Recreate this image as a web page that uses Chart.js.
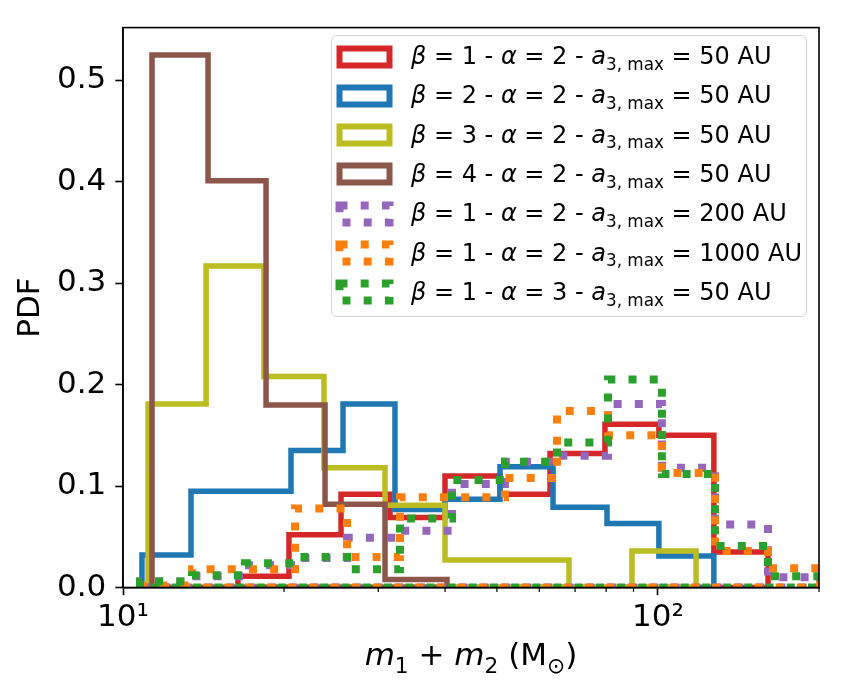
<!DOCTYPE html>
<html>
<head>
<meta charset="utf-8">
<script src="https://cdn.jsdelivr.net/npm/chart.js@4.4.0/dist/chart.umd.min.js"></script>
<style>
  body { margin: 0; background: #fff; }
  #wrap { position: relative; width: 844px; height: 694px; font-family: 'DejaVu Sans', sans-serif; color: #000; }
  #xtitle { position: absolute; left: 123px; width: 696px; top: 636px; text-align: center; font-size: 31px; white-space: nowrap; }
  #legend { position: absolute; left: 331px; top: 35px; width: 474px; height: 280px; border: 1.5px solid #d3d3d3; border-radius: 6px; background: rgba(255,255,255,0.8); }
  .row { position: absolute; left: 0; height: 39px; width: 470px; font-size: 24px; white-space: nowrap; }
  .row canvas { position: absolute; left: 2px; top: 3.5px; }
  .row span.txt { position: absolute; left: 79px; top: 0; line-height: 39px; }
  .sub { font-size: 70%; position: relative; top: 0.35em; }
</style>
</head>
<body>
<div id="wrap">
  <canvas id="grafico" width="844" height="694"></canvas>
  <div id="xtitle"><i>m</i><span class="sub">1</span> + <i>m</i><span class="sub">2</span> (M<span class="sub">⊙</span>)</div>
  <div id="legend"></div>
</div>
<script>
// --- parâmetros de cada simulação (ordem da legenda) ---
const betas = [1, 2, 3, 4, 1, 1, 1];
const alphas = [2, 2, 2, 2, 2, 2, 3];
const aMax = [50, 50, 50, 50, 200, 1000, 50];

// --- bordas dos bins (M_sun) e PDF ---
const redEdges = [16.40, 20.43, 25.56, 31.56, 39.99, 50.67, 62.84, 79.60, 100.4, 127.2, 160.6];
const redPdf = [0.011, 0.052, 0.092, 0.069, 0.110, 0.092, 0.132, 0.161, 0.150, 0.035];

const blueEdges = [10.85, 13.40, 16.62, 20.61, 25.78, 32.24, 39.99, 50.67, 63.66, 80.30, 100.4, 127.2];
const bluePdf = [0.032, 0.095, 0.095, 0.135, 0.181, 0.077, 0.087, 0.119, 0.079, 0.063, 0.031];

const oliveEdges = [11.14, 14.30, 18.34, 23.75, 30.89, 39.99, 52.21, 68.19, 89.42, 117.8];
const olivePdf = [0.181, 0.317, 0.208, 0.118, 0.081, 0.027, 0.027, 0.0, 0.036];

const brownEdges = [11.33, 14.42, 18.51, 23.86, 30.89, 40.33];
const brownPdf = [0.525, 0.401, 0.180, 0.082, 0.008];

const dotEdges = [10.76, 13.46, 16.90, 20.97, 26.23, 32.94, 41.21, 51.76, 64.76, 80.64, 101.7, 127.8, 160.6, 200.8, 252.0];
const purplePdf = [0.006, 0.011, 0.022, 0.029, 0.049, 0.056, 0.102, 0.124, 0.130, 0.181, 0.118, 0.062, 0.010, 0.004];
const orangePdf = [0.002, 0.018, 0.018, 0.078, 0.030, 0.089, 0.089, 0.108, 0.174, 0.150, 0.113, 0.036, 0.019, 0.004];
const greenPdf = [0.006, 0.012, 0.024, 0.030, 0.018, 0.068, 0.106, 0.124, 0.143, 0.205, 0.112, 0.041, 0.011, 0.004];

// --- eixos ---
const xMajorTicks = [10, 100];
const xMinorTicks = [20, 30, 40, 50, 60, 70, 80, 90, 200];
const yTicks = [0.0, 0.1, 0.2, 0.3, 0.4, 0.5];

const SOLID = 5.5;
const DOT = 8;
const DOT_DASH = [8, 13.2];

const series = [
    { edges: redEdges, pdf: redPdf, color: '#d62728', dotted: false },
    { edges: blueEdges, pdf: bluePdf, color: '#1f77b4', dotted: false },
    { edges: oliveEdges, pdf: olivePdf, color: '#bcbd22', dotted: false },
    { edges: brownEdges, pdf: brownPdf, color: '#8c564b', dotted: false },
    { edges: dotEdges, pdf: purplePdf, color: '#9467bd', dotted: true },
    { edges: dotEdges, pdf: orangePdf, color: '#ff7f0e', dotted: true },
    { edges: dotEdges, pdf: greenPdf, color: '#2ca02c', dotted: true }
];

// contorno fechado do histograma (step)
function histPoints(edges, pdf) {
    const pts = [{ x: edges[0], y: 0 }];
    pdf.forEach((v, i) => pts.push({ x: edges[i], y: v }));
    pts.push({ x: edges[edges.length - 1], y: 0 });
    pts.push({ x: edges[0], y: 0 });
    return pts;
}

const sup = { '1': '¹', '2': '²', '3': '³' };

// moldura + ticks menores
const frame = {
    id: 'frame',
    afterDatasetsDraw(chart) {
        const { ctx, chartArea: a } = chart;
        const x = chart.scales.x;
        ctx.save();
        ctx.strokeStyle = '#000';
        ctx.lineWidth = 1.6;
        ctx.strokeRect(a.left, a.top, a.right - a.left, a.bottom - a.top);
        ctx.lineWidth = 1.2;
        xMinorTicks.forEach(v => {
            const px = x.getPixelForValue(v);
            ctx.beginPath();
            ctx.moveTo(px, a.bottom);
            ctx.lineTo(px, a.bottom + 4.4);
            ctx.stroke();
        });
        ctx.restore();
    }
};

Chart.defaults.font.family = "'DejaVu Sans', sans-serif";
Chart.defaults.color = '#000';

new Chart(document.getElementById('grafico'), {
    type: 'line',
    data: {
        datasets: series.map((s, i) => ({
            label: 'beta=' + betas[i] + ' alpha=' + alphas[i] + ' a3max=' + aMax[i],
            data: histPoints(s.edges, s.pdf),
            borderColor: s.color,
            borderWidth: s.dotted ? DOT : SOLID,
            borderDash: s.dotted ? DOT_DASH : [],
            borderJoinStyle: 'miter',
            stepped: true,
            pointRadius: 0,
            fill: false,
            clip: 0,
            order: series.length - i
        }))
    },
    options: {
        responsive: false,
        animation: false,
        layout: { padding: { left: 0, right: 25, top: 21, bottom: 0 } },
        plugins: { legend: { display: false }, tooltip: { enabled: false } },
        scales: {
            x: {
                type: 'logarithmic',
                min: 10,
                max: 200,
                afterBuildTicks: s => { s.ticks = xMajorTicks.map(v => ({ value: v, major: true })); },
                afterFit: s => { s.height = 106.5; },
                ticks: {
                    font: { size: 31 },
                    padding: 4,
                    maxRotation: 0,
                    autoSkip: false,
                    callback: v => '10' + sup[String(Math.round(Math.log10(v)))]
                },
                grid: { drawOnChartArea: false, tickLength: 7.7, tickColor: '#000', tickWidth: 1.6 },
                border: { display: true, color: '#000', width: 1.6 }
            },
            y: {
                min: 0,
                max: 0.552,
                afterBuildTicks: s => { s.ticks = yTicks.map(v => ({ value: v })); },
                afterFit: s => { s.width = 123; },
                ticks: {
                    font: { size: 31 },
                    padding: 9,
                    callback: v => v.toFixed(1)
                },
                title: { display: true, text: 'PDF', font: { size: 31 }, padding: { top: 12, bottom: 0 } },
                grid: { drawOnChartArea: false, tickLength: 7.7, tickColor: '#000', tickWidth: 1.6 },
                border: { display: true, color: '#000', width: 1.6 }
            }
        }
    },
    plugins: [frame]
});

// --- Legenda ---
const legend = document.getElementById('legend');
series.forEach((s, i) => {
    const row = document.createElement('div');
    row.className = 'row';
    row.style.top = (22 + 39.3 * i - 19.5 - 1.5) + 'px';
    const c = document.createElement('canvas');
    c.width = 64; c.height = 32;
    const g = c.getContext('2d');
    g.strokeStyle = s.color;
    g.lineWidth = s.dotted ? DOT : 6;
    g.lineJoin = 'miter';
    if (s.dotted) g.setLineDash(DOT_DASH);
    g.strokeRect(5.5, 7.5, 50, 17);
    row.appendChild(c);
    const t = document.createElement('span');
    t.className = 'txt';
    t.innerHTML = '<i>β</i> = ' + betas[i] + ' - <i>α</i> = ' + alphas[i] +
        ' - <i>a</i><span class="sub">3, max</span> = ' + aMax[i] + ' AU';
    row.appendChild(t);
    legend.appendChild(row);
});
</script>
</body>
</html>
